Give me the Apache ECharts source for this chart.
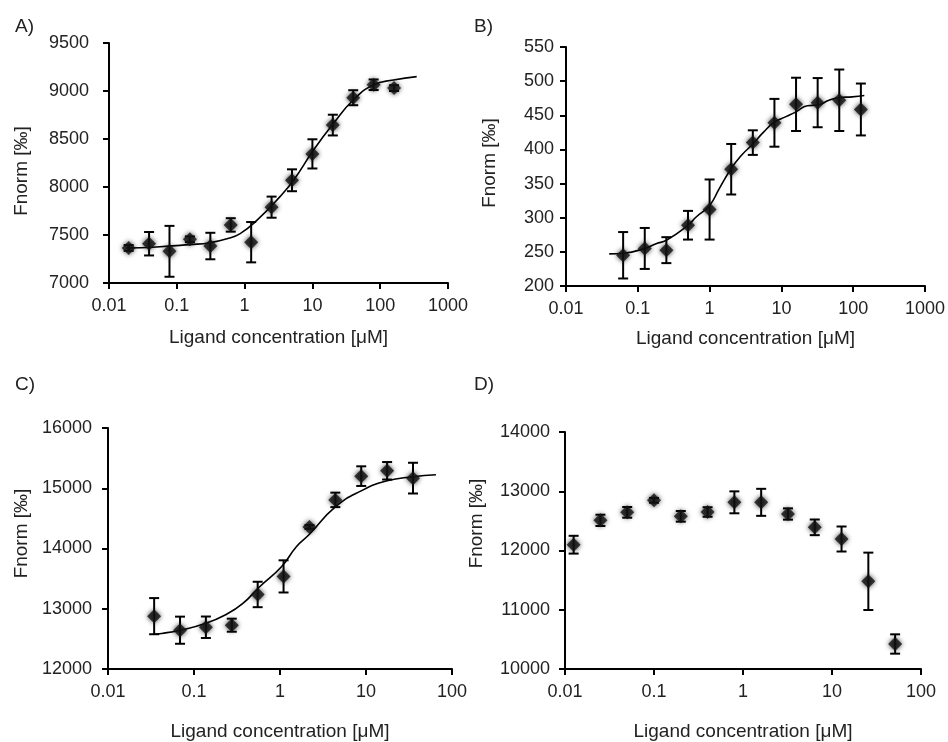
<!DOCTYPE html>
<html>
<head>
<meta charset="utf-8">
<script src="https://cdn.jsdelivr.net/npm/echarts@6/dist/echarts.min.js"></script>
<style>
  html, body { margin: 0; padding: 0; background: #fff; }
  #chart { width: 948px; height: 742px; }
</style>
</head>
<body>
<div id="chart"></div>
<script>
// panel A
var concA = [0.0195, 0.039, 0.078, 0.156, 0.3125, 0.625, 1.25, 2.5, 5, 10, 20, 40, 80, 160];
var fnormA = [7365, 7409, 7330, 7455, 7385, 7605, 7425, 7790, 8070, 8345, 8645, 8930, 9065, 9030];
var errA = [30, 122, 265, 30, 138, 70, 210, 110, 114, 152, 108, 78, 55, 30];
var fitXA = [0.018, 0.05, 0.156, 0.31, 0.55, 0.86, 1.5, 3.33, 5.3, 10.4, 20.5, 40, 79, 157, 345];
var fitYA = [7365, 7375, 7400, 7420, 7460, 7515, 7650, 7900, 8073, 8385, 8663, 8906, 9062, 9115, 9150];

// panel B
var concB = [0.0625, 0.125, 0.25, 0.5, 1, 2, 4, 8, 16, 32, 64, 128];
var fnormB = [245, 255, 252.5, 289, 312, 371, 410, 439, 466, 468.5, 472, 458.5];
var errB = [34, 30, 19, 21, 44, 37, 18, 35, 39, 36, 45, 38];
var fitXB = [0.04, 0.063, 0.125, 0.18, 0.25, 0.5, 0.65, 1, 1.37, 2, 2.76, 4, 5.6, 8, 11.6, 16, 23, 32, 46, 64, 97, 143];
var fitYB = [247, 248, 255, 262, 267, 289, 301, 318, 343, 372, 391, 408, 425, 440, 448, 455, 464, 465, 472, 476, 477, 479];

// panel C
var concC = [0.0344, 0.0688, 0.1375, 0.275, 0.55, 1.1, 2.2, 4.4, 8.8, 17.6, 35.2];
var fnormC = [12877, 12644, 12693, 12727, 13237, 13537, 14358, 14807, 15201, 15290, 15168];
var errC = [300, 225, 178, 108, 211, 267, 30, 120, 163, 145, 255];
var fitXC = [0.0338, 0.042, 0.069, 0.135, 0.24, 0.37, 0.58, 1.04, 1.55, 2.2, 4.4, 8.8, 17.6, 35, 65];
var fitYC = [12577, 12590, 12644, 12755, 12910, 13088, 13365, 13697, 14030, 14236, 14690, 14957, 15123, 15190, 15223];

// panel D
var concD = [0.0125, 0.025, 0.05, 0.1, 0.2, 0.4, 0.8, 1.6, 3.2, 6.4, 12.8, 25.6, 51.2];
var fnormD = [12098, 12509, 12644, 12847, 12577, 12650, 12813, 12813, 12616, 12391, 12194, 11480, 10422];
var errD = [150, 95, 90, 40, 90, 80, 185, 228, 95, 132, 211, 484, 163];

var yName = 'Fnorm [‰]';
var xName = 'Ligand concentration [μM]';
var txt = '#222';
var font = 'Liberation Sans, Arial, sans-serif';

var dom = document.getElementById('chart');
var myChart = echarts.init(dom);

var grids = [
  {left: 109, top: 43, width: 339, height: 240},
  {left: 566, top: 47, width: 361, height: 239},
  {left: 108, top: 428, width: 344, height: 241},
  {left: 565, top: 432, width: 356, height: 237}
];

function logLabel(v) {
  return String(+Number(v).toPrecision(3));
}

function plainLabel(v) {
  return String(v);
}

function makeX(i, max, gap) {
  return {
    type: 'log', logBase: 10, gridIndex: i, min: 0.01, max: max,
    name: xName, nameLocation: 'middle', nameGap: gap,
    nameTextStyle: {fontSize: 19, color: txt, fontFamily: font},
    axisLine: {lineStyle: {color: '#000', width: 2}},
    axisTick: {show: true, length: 6, lineStyle: {color: '#000', width: 2}},
    axisLabel: {fontSize: 18, color: txt, fontFamily: font, margin: 14, formatter: logLabel},
    splitLine: {show: false},
    minorTick: {show: false}
  };
}

function makeY(i, min, max, step, gap, pad, margin) {
  return {
    type: 'value', gridIndex: i, min: min, max: max, interval: step,
    name: yName, nameLocation: 'middle', nameGap: gap,
    nameTextStyle: {fontSize: 19, color: txt, fontFamily: font, padding: pad},
    axisLine: {show: true, lineStyle: {color: '#000', width: 2}},
    axisTick: {show: true, length: 6, lineStyle: {color: '#000', width: 2}},
    axisLabel: {fontSize: 18, color: txt, fontFamily: font, margin: margin, formatter: plainLabel},
    splitLine: {show: false}
  };
}

function pairs(xs, ys) {
  return xs.map(function (x, k) { return [x, ys[k]]; });
}

function errData(xs, ys, es) {
  return xs.map(function (x, k) { return [x, ys[k] - es[k], ys[k] + es[k]]; });
}

function errSeries(i, xs, ys, es) {
  return {
    type: 'custom', xAxisIndex: i, yAxisIndex: i, z: 2,
    data: errData(xs, ys, es),
    renderItem: function (params, api) {
      var lo = api.coord([api.value(0), api.value(1)]);
      var hi = api.coord([api.value(0), api.value(2)]);
      var w = 5;
      var st = {stroke: '#000', lineWidth: 2};
      return {
        type: 'group',
        children: [
          {type: 'line', shape: {x1: lo[0], y1: lo[1], x2: hi[0], y2: hi[1]}, style: st},
          {type: 'line', shape: {x1: lo[0] - w, y1: lo[1], x2: lo[0] + w, y2: lo[1]}, style: st},
          {type: 'line', shape: {x1: hi[0] - w, y1: hi[1], x2: hi[0] + w, y2: hi[1]}, style: st}
        ]
      };
    }
  };
}

function dotSeries(i, xs, ys) {
  return {
    type: 'scatter', xAxisIndex: i, yAxisIndex: i, z: 4,
    symbol: 'diamond', symbolSize: 14,
    itemStyle: {color: '#111', shadowBlur: 5, shadowColor: 'rgba(0,0,0,0.9)'},
    data: pairs(xs, ys)
  };
}

function fitSeries(i, xs, ys) {
  return {
    type: 'line', xAxisIndex: i, yAxisIndex: i, z: 3,
    smooth: true, showSymbol: false, symbol: 'none',
    lineStyle: {color: '#000', width: 1.6},
    data: pairs(xs, ys)
  };
}

var option = {
  animation: false,
  backgroundColor: '#fff',
  textStyle: {fontFamily: font},
  title: [
    {text: 'A)', left: 10, top: 12, textStyle: {fontSize: 19, fontWeight: 'normal', color: txt}},
    {text: 'B)', left: 469, top: 12, textStyle: {fontSize: 19, fontWeight: 'normal', color: txt}},
    {text: 'C)', left: 10, top: 370, textStyle: {fontSize: 19, fontWeight: 'normal', color: txt}},
    {text: 'D)', left: 469, top: 370, textStyle: {fontSize: 19, fontWeight: 'normal', color: txt}}
  ],
  grid: grids,
  xAxis: [makeX(0, 1000, 45), makeX(1, 1000, 43), makeX(2, 100, 53), makeX(3, 100, 53)],
  yAxis: [
    makeY(0, 7000, 9500, 500, 78, [0, 16, 0, 0], 20),
    makeY(1, 200, 550, 50, 67, [0, 0, 0, 7], 12),
    makeY(2, 12000, 16000, 1000, 77, [0, 0, 0, 30], 16),
    makeY(3, 10000, 14000, 1000, 79, [0, 0, 0, 54], 15)
  ],
  series: [
    errSeries(0, concA, fnormA, errA), fitSeries(0, fitXA, fitYA), dotSeries(0, concA, fnormA),
    errSeries(1, concB, fnormB, errB), fitSeries(1, fitXB, fitYB), dotSeries(1, concB, fnormB),
    errSeries(2, concC, fnormC, errC), fitSeries(2, fitXC, fitYC), dotSeries(2, concC, fnormC),
    errSeries(3, concD, fnormD, errD), dotSeries(3, concD, fnormD)
  ]
};

myChart.setOption(option);
</script>
</body>
</html>
